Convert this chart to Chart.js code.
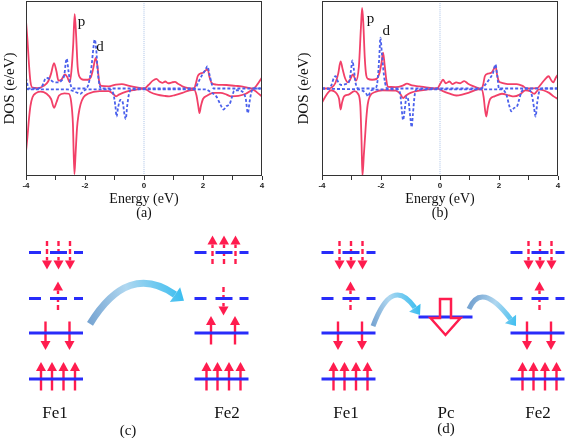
<!DOCTYPE html>
<html>
<head>
<meta charset="utf-8">
<script src="https://cdn.jsdelivr.net/npm/chart.js@4.4.1/dist/chart.umd.min.js"></script>
<style>
  html, body { margin: 0; padding: 0; background: #fff; }
  #wrap { position: relative; width: 567px; height: 438px; overflow: hidden; }
  canvas { position: absolute; }
  .lbl { position: absolute; font-family: 'Liberation Serif', 'Times New Roman', serif; font-size: 17px; color: #111;
         transform: translate(-50%, -50%); white-space: nowrap; }
  .sub { font-size: 15px; }
</style>
</head>
<body>
<div id="wrap">
  <canvas id="dosA" width="285" height="220" style="left:0;top:0"></canvas>
  <canvas id="dosB" width="284" height="220" style="left:283px;top:0"></canvas>
  <canvas id="levels" width="567" height="218" style="left:0;top:220px"></canvas>
  <div class="lbl" style="left:55px;top:413px">Fe1</div>
  <div class="lbl" style="left:227px;top:413px">Fe2</div>
  <div class="lbl sub" style="left:128px;top:430px">(c)</div>
  <div class="lbl" style="left:346px;top:413px">Fe1</div>
  <div class="lbl" style="left:446px;top:413px">Pc</div>
  <div class="lbl sub" style="left:446px;top:428px">(d)</div>
  <div class="lbl" style="left:538px;top:413px">Fe2</div>
</div>
<script>
// DOS curves, [energy (eV), DOS]
const aPUp = [[-4, 7.7], [-3.95, 5.5], [-3.9, 2.8], [-3.85, 0.8], [-3.78, 0.1], [-3.6, 0.05], [-3.4, 0.3], [-3.25, 0.8],
  [-3.15, 1.7], [-3.05, 2.9], [-2.97, 2.0], [-2.9, 0.9], [-2.8, 1.0], [-2.68, 1.6], [-2.6, 1.3], [-2.52, 0.7],
  [-2.46, 2.0], [-2.4, 5.0], [-2.35, 8.5], [-2.3, 6.0], [-2.25, 2.5], [-2.18, 1.3], [-2.05, 1.0], [-1.9, 1.0],
  [-1.8, 1.3], [-1.72, 2.3], [-1.64, 3.5], [-1.58, 2.6], [-1.52, 0.8], [-1.45, 0.3], [-1.2, 0.25], [-0.95, 0.45],
  [-0.75, 0.5], [-0.5, 0.3], [-0.2, 0.1], [0, 0], [0.15, 0.4], [0.3, 0.9], [0.42, 1.1], [0.52, 0.8], [0.62, 0.65],
  [0.72, 0.8], [0.82, 0.6], [0.95, 0.7], [1.05, 0.75], [1.15, 0.55], [1.3, 0.25], [1.5, 0.05], [1.7, 0],
  [1.76, 0.6], [1.82, 1.4], [1.9, 1.7], [2.0, 1.8], [2.1, 2.1], [2.16, 2.2], [2.22, 1.3], [2.3, 0.6], [2.45, 0.45],
  [2.8, 0.4], [3.1, 0.3], [3.3, 0.25], [3.5, 0.1], [3.7, 0], [3.85, 0.5], [4, 1.25]];
const aPDown = [[-4, -7.2], [-3.95, -5.5], [-3.9, -3.5], [-3.85, -2.0], [-3.78, -1.0], [-3.65, -0.5], [-3.5, -0.35],
  [-3.3, -0.6], [-3.15, -1.2], [-3.05, -2.2], [-2.97, -1.6], [-2.88, -0.8], [-2.7, -0.55], [-2.55, -0.6],
  [-2.47, -1.5], [-2.41, -4.0], [-2.36, -9.8], [-2.32, -7.5], [-2.27, -4.5], [-2.22, -3.0], [-2.15, -1.8],
  [-2.05, -1.0], [-1.9, -0.6], [-1.5, -0.3], [-1.2, -0.3], [-1.05, -0.6], [-0.95, -0.9], [-0.85, -0.7],
  [-0.6, -0.35], [-0.3, -0.15], [0, 0], [0.2, -0.4], [0.45, -0.7], [0.7, -0.85], [0.85, -0.9], [1.05, -0.75],
  [1.3, -0.5], [1.55, -0.2], [1.7, -0.15], [1.78, -0.8], [1.84, -2.0], [1.88, -2.8], [1.93, -2.0], [2.0, -1.2],
  [2.15, -0.8], [2.35, -0.5], [2.6, -0.5], [2.8, -0.7], [2.95, -0.9], [3.2, -0.85], [3.45, -0.6], [3.7, -0.15],
  [3.85, -0.5], [4, -0.9]];
const aDUp = [[-4, 1.2], [-3.96, 0.6], [-3.92, 0], [-3.6, 0], [-3.45, 0.3], [-3.32, 1.2], [-3.2, 1.1], [-3.1, 0.8],
  [-2.95, 0.7], [-2.8, 0.9], [-2.7, 1.6], [-2.65, 3.0], [-2.62, 3.4], [-2.56, 2.0], [-2.5, 0.6], [-2.43, 0],
  [-2.0, 0], [-1.88, 0.5], [-1.78, 2.5], [-1.72, 4.5], [-1.67, 5.6], [-1.62, 4.5], [-1.57, 2.0], [-1.5, 0.3],
  [-1.45, 0], [1.72, 0], [1.85, 0.8], [1.98, 1.6], [2.08, 2.1], [2.15, 2.55], [2.22, 1.6], [2.3, 0.5], [2.36, 0],
  [4, 0]];
const aDDown = [[-4, 0], [-3.9, -0.1], [-2.6, -0.1], [-2.4, -0.3], [-2.25, -0.5], [-2.15, -0.6], [-2.05, -0.3],
  [-1.95, -0.1], [-1.2, -0.1], [-1.05, -0.5], [-0.97, -2.0], [-0.93, -3.2], [-0.88, -2.2], [-0.8, -1.3],
  [-0.72, -1.6], [-0.66, -3.0], [-0.62, -3.5], [-0.57, -2.0], [-0.5, -0.5], [-0.4, -0.1], [2.1, -0.1],
  [2.25, -0.4], [2.45, -0.9], [2.6, -1.9], [2.7, -2.4], [2.8, -2.0], [2.9, -1.8], [2.98, -1.0], [3.05, -0.3],
  [3.15, -0.2], [3.35, -0.4], [3.45, -1.2], [3.52, -2.8], [3.58, -1.5], [3.65, -0.3], [3.75, 0], [4, 0]];

const bPUp = [[-4, 0], [-3.8, 0], [-3.68, 0.1], [-3.55, 0.6], [-3.45, 1.7], [-3.37, 3.1], [-3.3, 2.2], [-3.22, 1.2],
  [-3.12, 0.7], [-3.05, 1.0], [-2.95, 1.6], [-2.85, 0.9], [-2.75, 2.5], [-2.68, 7.0], [-2.64, 9.2], [-2.6, 7.5],
  [-2.55, 3.5], [-2.5, 1.5], [-2.44, 1.1], [-2.3, 1.0], [-2.15, 1.1], [-2.05, 1.8], [-1.98, 3.0], [-1.93, 4.1],
  [-1.88, 2.8], [-1.82, 1.0], [-1.77, 0.2], [-1.5, 0.15], [-1.25, 0.35], [-1.12, 0.55], [-0.95, 0.35],
  [-0.7, 0.25], [-0.4, 0.1], [-0.1, 0], [0.02, 0.6], [0.1, 1.0], [0.2, 0.6], [0.32, 0.8], [0.42, 0.5],
  [0.55, 0.7], [0.68, 0.6], [0.82, 0.85], [0.95, 0.55], [1.1, 0.3], [1.25, 0.1], [1.4, 0], [1.46, 0.4],
  [1.52, 1.4], [1.62, 1.7], [1.74, 1.8], [1.82, 2.2], [1.88, 2.55], [1.94, 1.5], [2.0, 0.8], [2.1, 0.65],
  [2.3, 0.5], [2.6, 0.5], [2.8, 0.3], [2.95, 0], [3.3, 0.05], [3.45, 0.6], [3.56, 1.05], [3.68, 1.4],
  [3.76, 1.0], [3.84, 0.7], [3.92, 1.2], [4, 1.6]];
const bPDown = [[-4, -1.6], [-3.9, -1.0], [-3.8, -0.5], [-3.7, -0.2], [-3.6, -0.3], [-3.5, -0.6], [-3.42, -1.2],
  [-3.37, -2.4], [-3.32, -1.6], [-3.25, -0.9], [-3.1, -0.7], [-2.9, -0.3], [-2.78, -0.6], [-2.7, -2.0],
  [-2.66, -6.0], [-2.63, -10], [-2.58, -7.5], [-2.54, -5.5], [-2.5, -3.5], [-2.45, -1.8], [-2.38, -0.9],
  [-2.2, -0.4], [-1.95, -0.2], [-1.5, -0.25], [-1.35, -0.6], [-1.25, -1.1], [-1.15, -0.8], [-1.0, -0.5],
  [-0.8, -0.3], [-0.5, -0.15], [-0.1, 0], [0.1, -0.3], [0.3, -0.55], [0.55, -0.8], [0.75, -0.7], [1.0, -0.45],
  [1.3, -0.1], [1.42, -0.1], [1.48, -1.0], [1.53, -2.5], [1.57, -3.2], [1.62, -2.2], [1.7, -1.2], [1.85, -0.9],
  [2.1, -0.6], [2.35, -0.8], [2.5, -0.9], [2.7, -0.7], [2.9, -0.2], [3.05, -0.3], [3.2, -0.6], [3.35, -0.1],
  [3.5, -0.2], [3.7, -0.5], [3.85, -0.9], [4, -1.2]];
const bDUp = [[-4, 0], [-3.75, 0], [-3.68, 0.4], [-3.6, 1.2], [-3.54, 1.4], [-3.46, 0.8], [-3.35, 0.4], [-3.2, 0.5],
  [-3.08, 0.8], [-3.02, 2.0], [-2.97, 3.2], [-2.92, 2.2], [-2.86, 0.6], [-2.78, 0], [-2.2, 0], [-2.12, 0.8],
  [-2.06, 3.5], [-2.02, 5.8], [-1.97, 4.0], [-1.9, 1.5], [-1.83, 0.2], [-1.78, 0], [1.4, 0], [1.55, 0.5],
  [1.7, 1.2], [1.8, 1.8], [1.88, 2.75], [1.94, 1.5], [2.0, 0], [4, 0]];
const bDDown = [[-4, 0], [-3.7, -0.05], [-2.8, -0.1], [-2.6, -0.3], [-2.5, -0.6], [-2.44, -0.9], [-2.38, -0.5],
  [-2.3, -0.15], [-1.45, -0.1], [-1.35, -0.6], [-1.3, -2.3], [-1.25, -3.6], [-1.2, -2.5], [-1.13, -0.9],
  [-1.06, -1.6], [-1.0, -3.5], [-0.96, -4.4], [-0.92, -3.0], [-0.86, -0.8], [-0.8, -0.1], [2.1, -0.1],
  [2.25, -0.7], [2.35, -2.0], [2.42, -2.6], [2.52, -2.2], [2.6, -2.1], [2.68, -1.3], [2.76, -0.4], [2.9, 0],
  [3.05, -0.2], [3.14, -1.2], [3.2, -2.5], [3.24, -3.2], [3.3, -1.5], [3.38, -0.2], [3.5, 0], [4, 0]];

const energyLabels = [-4, -2, 0, 2, 4];
// peak annotations: [text, energy, DOS]
const aMarks = [['p', -2.12, 7.55], ['d', -1.49, 4.7]];
const bMarks = [['p', -2.36, 7.9], ['d', -1.82, 6.6]];

// schematic levels (bottom to top) and their spin occupation
const levelE = [0, 1, 1.75, 2.75];
const levelDashed = [false, false, true, true];
const pcLevelE = 1.35;
const fe1Spins = [['u', 'u', 'u', 'u'], ['d', 'd'], ['u'], ['d', 'd', 'd']];
const fe2cSpins = [['u', 'u', 'u', 'u'], ['u', 'u'], ['d'], ['u', 'u', 'u']];
const fe2dSpins = [['u', 'u', 'u', 'u'], ['d', 'd'], ['u'], ['d', 'd', 'd']];

const RED = 'rgb(242,64,104)';
const BLUE = 'rgb(74,96,236)';
const ARROW = 'rgb(255,28,78)';
const LEVEL = 'rgb(40,44,250)';

function pts(arr) { return arr.map(p => ({x: p[0], y: p[1]})); }

const framePlugin = {
  id: 'frame',
  afterDatasetsDraw(chart, args, opts) {
    const {ctx, chartArea: a, scales: {x, y}} = chart;
    ctx.save();
    ctx.strokeStyle = '#333';
    ctx.lineWidth = 1;
    ctx.strokeRect(Math.round(a.left) + 0.5, Math.round(a.top) + 0.5, Math.round(a.width) - 1, Math.round(a.height) - 1);
    ctx.fillStyle = '#111';
    ctx.font = '15px "Liberation Serif"';
    ctx.textAlign = 'center';
    ctx.textBaseline = 'middle';
    (opts.marks || []).forEach(m => ctx.fillText(m[0], x.getPixelForValue(m[1]), y.getPixelForValue(m[2])));
    ctx.restore();
  }
};

function dosChart(id, s, marks, letter, yWidth, padRight, titlePad) {
  const line = (data, color, dash, w) => ({
    data: pts(data), borderColor: color, borderWidth: w, borderDash: dash,
    pointRadius: 0, fill: false, cubicInterpolationMode: 'monotone'
  });
  return new Chart(document.getElementById(id), {
    type: 'line',
    data: {
      datasets: [
        line(s[2], BLUE, [3, 2], 1.8),
        line(s[3], BLUE, [3, 2], 1.8),
        line(s[0], RED, [], 1.8),
        line(s[1], RED, [], 1.8),
        line([[0, -10], [0, 10]], 'rgba(150,180,225,0.8)', [1, 1], 1)
      ]
    },
    options: {
      responsive: false,
      animation: false,
      layout: { padding: { top: 1, right: padRight, bottom: 0, left: 0 } },
      plugins: { legend: { display: false }, tooltip: { enabled: false }, frame: { marks: marks } },
      scales: {
        x: {
          type: 'linear', min: -4, max: 4,
          ticks: {
            stepSize: 1, autoSkip: false, maxRotation: 0, padding: 1, color: '#222',
            font: { family: 'Liberation Sans', size: 8, weight: 'bold' },
            callback: v => energyLabels.includes(v) ? String(v) : ''
          },
          grid: { drawOnChartArea: false, tickLength: 4, color: '#333' },
          border: { display: false },
          title: {
            display: true, text: ['Energy (eV)', letter], color: '#111', padding: 0,
            font: { family: 'Liberation Serif', size: 14, lineHeight: 1 }
          },
          afterFit: sc => { sc.height = 44; }
        },
        y: {
          min: -10, max: 10,
          ticks: { display: false },
          grid: { display: false },
          border: { display: false },
          title: {
            display: true, text: 'DOS (e/eV)', color: '#111', padding: { top: titlePad, bottom: 0 },
            font: { family: 'Liberation Serif', size: 15, lineHeight: 1.2 }
          },
          afterFit: sc => { sc.width = yWidth; }
        }
      }
    },
    plugins: [framePlugin]
  });
}

dosChart('dosA', [aPUp, aPDown, aDUp, aDDown], aMarks, '(a)', 26, 23, 1.5);
dosChart('dosB', [bPUp, bPDown, bDUp, bDDown], bMarks, '(b)', 39, 9, 12);

// ---------- level diagrams (c) and (d) ----------
const sites = [
  { x: 56, spins: fe1Spins },
  { x: 221.5, spins: fe2cSpins },
  { x: 348.5, spins: fe1Spins },
  { x: 537.5, spins: fe2dSpins }
];
const HALF = 27;
const slots = { 1: [2], 2: [-10.5, 13.5], 3: [-9, 2.5, 14], 4: [-15, -4, 7.5, 19] };
const TAIL = 0.25, TIP = 0.37, HEAD = 0.196;

const diagSets = [];
sites.forEach(site => {
  levelE.forEach((e, i) => {
    diagSets.push({
      data: [{x: site.x - HALF, y: e}, {x: site.x + HALF, y: e}],
      borderColor: LEVEL, borderWidth: 3, borderDash: levelDashed[i] ? [12, 9, 17, 7] : [],
      borderCapStyle: 'butt', pointRadius: 0
    });
    const sp = site.spins[i];
    sp.forEach((s, k) => {
      const ax = site.x + slots[sp.length][k];
      const dir = s === 'u' ? 1 : -1;
      diagSets.push({
        data: [{x: ax, y: e - dir * TAIL}, {x: ax, y: e + dir * (TIP - HEAD)}],
        borderColor: ARROW, borderWidth: 2.4, borderDash: levelDashed[i] ? [5, 3] : [],
        pointRadius: 0, arrow: true
      });
    });
  });
});
diagSets.push({
  data: [{x: 445.5 - HALF, y: pcLevelE}, {x: 445.5 + HALF, y: pcLevelE}],
  borderColor: LEVEL, borderWidth: 3, pointRadius: 0
});

// electron transfer paths: start, control, tip (x, level units)
const transfers = [
  { from: [90, 1.2], ctrl: [128, 2.55], to: [184, 1.7], w: 7 },
  { from: [373, 1.15], ctrl: [392, 2.26], to: [420, 1.39], w: 5 },
  { from: [469, 1.52], ctrl: [481, 2.14], to: [516, 1.15], w: 5 }
];
const pcArrow = { x: 445.5, top: 1.74, neck: 1.326, tip: 0.957 };

const diagPlugin = {
  id: 'diag',
  afterDatasetsDraw(chart) {
    const {ctx, scales: {x, y}} = chart;
    const P = p => [x.getPixelForValue(p[0]), y.getPixelForValue(p[1])];
    ctx.save();
    // arrow heads on spin arrows
    ctx.fillStyle = ARROW;
    chart.data.datasets.forEach((ds, i) => {
      if (!ds.arrow) return;
      const m = chart.getDatasetMeta(i).data;
      const x0 = m[0].x, y0 = m[0].y, x1 = m[1].x, y1 = m[1].y;
      const len = Math.hypot(x1 - x0, y1 - y0);
      const ux = (x1 - x0) / len, uy = (y1 - y0) / len;
      ctx.beginPath();
      ctx.moveTo(x1 + ux * 9, y1 + uy * 9);
      ctx.lineTo(x1 - uy * 5, y1 + ux * 5);
      ctx.lineTo(x1 + uy * 5, y1 - ux * 5);
      ctx.closePath();
      ctx.fill();
    });
    // curved transfer arrows
    transfers.forEach(t => {
      const [sx, sy] = P(t.from), [cx, cy] = P(t.ctrl), [tx, ty] = P(t.to);
      const dl = Math.hypot(tx - cx, ty - cy);
      const ux = (tx - cx) / dl, uy = (ty - cy) / dl;
      const hl = t.w + 4, hw = t.w + 2;
      const ex = tx - ux * hl, ey = ty - uy * hl;
      const g = ctx.createLinearGradient(sx, sy, tx, ty);
      g.addColorStop(0, 'rgb(120,165,210)');
      g.addColorStop(0.45, 'rgb(175,215,240)');
      g.addColorStop(1, 'rgb(60,190,240)');
      ctx.strokeStyle = g;
      ctx.fillStyle = g;
      ctx.lineWidth = t.w;
      ctx.lineCap = 'butt';
      ctx.beginPath();
      ctx.moveTo(sx, sy);
      ctx.quadraticCurveTo(cx, cy, ex, ey);
      ctx.stroke();
      ctx.beginPath();
      ctx.moveTo(tx, ty);
      ctx.lineTo(ex - uy * hw, ey + ux * hw);
      ctx.lineTo(ex + uy * hw, ey - ux * hw);
      ctx.closePath();
      ctx.fill();
    });
    // hollow arrow on Pc
    const ax = x.getPixelForValue(pcArrow.x);
    const top = y.getPixelForValue(pcArrow.top), neck = y.getPixelForValue(pcArrow.neck), tip = y.getPixelForValue(pcArrow.tip);
    ctx.strokeStyle = ARROW;
    ctx.lineWidth = 2.5;
    ctx.lineJoin = 'miter';
    ctx.beginPath();
    ctx.moveTo(ax - 5.5, top);
    ctx.lineTo(ax + 5.5, top);
    ctx.lineTo(ax + 5.5, neck);
    ctx.lineTo(ax + 15, neck);
    ctx.lineTo(ax, tip);
    ctx.lineTo(ax - 15, neck);
    ctx.lineTo(ax - 5.5, neck);
    ctx.closePath();
    ctx.stroke();
    ctx.restore();
  }
};

new Chart(document.getElementById('levels'), {
  type: 'scatter',
  data: { datasets: diagSets.map(d => Object.assign({ showLine: true, fill: false }, d)) },
  options: {
    responsive: false,
    animation: false,
    layout: { padding: 0 },
    plugins: { legend: { display: false }, tooltip: { enabled: false } },
    scales: {
      x: { type: 'linear', min: 0, max: 567, display: false },
      y: { type: 'linear', min: -1.283, max: 3.457, display: false }
    }
  },
  plugins: [diagPlugin]
});
</script>
</body>
</html>
